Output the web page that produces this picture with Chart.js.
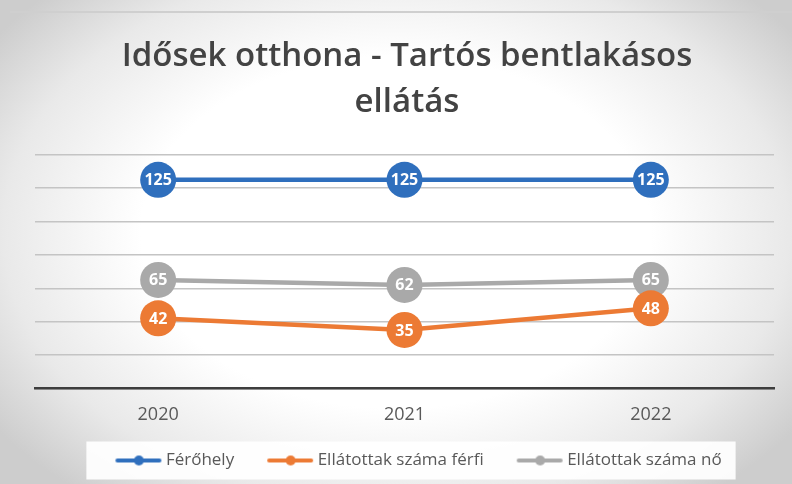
<!DOCTYPE html>
<html>
<head>
<meta charset="utf-8">
<script src="https://cdn.jsdelivr.net/npm/chart.js@4/dist/chart.umd.min.js"></script>
<style>
  html, body { margin: 0; padding: 0; }
  body {
    width: 792px; height: 484px; overflow: hidden;
    background: radial-gradient(ellipse 62% 70% at 50% 48%, #ffffff 52%, #e9e9e9 80%, #cdcdcd 100%);
  }
  #wrap { position: relative; width: 792px; height: 484px; }
  #topline { position: absolute; left: 10px; right: 0; top: 11px; height: 2px; background: #cfcfcf; }
</style>
</head>
<body>
<div id="wrap">
  <div id="topline"></div>
  <canvas id="c" width="792" height="484"></canvas>
</div>
<script>
const categories = ['2020', '2021', '2022'];
const ferohely = [125, 125, 125];
const ferfi = [42, 35, 48];
const no = [65, 62, 65];
const seriesNames = ['Férőhely', 'Ellátottak száma férfi', 'Ellátottak száma nő'];
const titleLines = ['Idősek otthona - Tartós bentlakásos', 'ellátás'];
const yMin = 0, yMax = 140, yStep = 20;

const colors = ['#2f6fbd', '#ec7a34', '#a9a9a9'];
const FONT = "'Open Sans', 'Noto Sans', sans-serif";

function makeMarker(color) {
  const cv = document.createElement('canvas');
  cv.width = 75; cv.height = 12;
  const g = cv.getContext('2d');
  g.strokeStyle = color; g.lineWidth = 4; g.lineCap = 'round';
  g.beginPath(); g.moveTo(30, 6); g.lineTo(72, 6); g.stroke();
  g.fillStyle = color;
  g.beginPath(); g.arc(51.5, 6, 5, 0, Math.PI * 2); g.fill();
  return cv;
}
const markers = colors.map(makeMarker);

const valueLabels = {
  id: 'valueLabels',
  afterDatasetsDraw(chart) {
    const ctx = chart.ctx;
    ctx.save();
    ctx.font = "bold 16px " + FONT;
    ctx.fillStyle = '#ffffff';
    ctx.textAlign = 'center';
    ctx.textBaseline = 'middle';
    for (let i = chart.data.datasets.length - 1; i >= 0; i--) {
      const meta = chart.getDatasetMeta(i);
      meta.data.forEach((pt, j) => {
        ctx.fillText(String(chart.data.datasets[i].data[j]), pt.x, pt.y + 1);
      });
    }
    ctx.restore();
  }
};

const legendBox = {
  id: 'legendBox',
  beforeDraw(chart) {
    const lg = chart.legend;
    if (!lg || !lg.legendHitBoxes || !lg.legendHitBoxes.length) return;
    const hb = lg.legendHitBoxes;
    let l = Infinity, r = -Infinity, t = Infinity, b = -Infinity;
    hb.forEach(h => { l = Math.min(l, h.left); r = Math.max(r, h.left + h.width); t = Math.min(t, h.top); b = Math.max(b, h.top + h.height); });
    const ctx = chart.ctx;
    ctx.save();
    ctx.fillStyle = 'rgba(255,255,255,0.92)';
    const cy = (t + b) / 2;
    ctx.fillRect(l - 6, cy - 19, (r - l) + 20, 38);
    ctx.restore();
  }
};

new Chart(document.getElementById('c'), {
  type: 'line',
  data: {
    labels: categories,
    datasets: [
      { label: seriesNames[0], data: ferohely },
      { label: seriesNames[1], data: ferfi },
      { label: seriesNames[2], data: no }
    ].map((d, i) => Object.assign(d, {
      borderColor: colors[i],
      backgroundColor: colors[i],
      pointBackgroundColor: colors[i],
      pointBorderColor: colors[i],
      pointBorderWidth: 0,
      pointRadius: 18,
      pointHoverRadius: 18,
      borderWidth: 4.5,
      tension: 0,
      clip: false
    }))
  },
  options: {
    responsive: false,
    animation: false,
    events: [],
    layout: { padding: { left: 35, right: 13, top: 0, bottom: 5 } },
    plugins: {
      title: {
        display: true,
        text: titleLines,
        color: '#434343',
        font: { family: FONT, size: 33, weight: '600', lineHeight: 1.39 },
        padding: { top: 34, bottom: 29 }
      },
      legend: {
        position: 'bottom',
        labels: {
          usePointStyle: true,
          pointStyleWidth: 65,
          padding: 10,
          color: '#595959',
          font: { family: FONT, size: 17 },
          generateLabels: chart => chart.data.datasets.map((ds, i) => ({
            text: ds.label,
            fillStyle: ds.borderColor,
            strokeStyle: ds.borderColor,
            lineWidth: 0,
            pointStyle: markers[i],
            fontColor: '#595959',
            hidden: false,
            datasetIndex: i
          }))
        }
      },
      tooltip: { enabled: false }
    },
    scales: {
      x: {
        offset: true,
        grid: { display: false, drawTicks: false },
        border: { display: true, color: '#3d3d3d', width: 2.5 },
        ticks: { color: '#595959', font: { family: FONT, size: 18 }, padding: 16 }
      },
      y: {
        min: yMin, max: yMax,
        ticks: { display: false, stepSize: yStep },
        grid: { color: '#c4c4c4', lineWidth: 1.5, drawTicks: false },
        border: { display: false }
      }
    }
  },
  plugins: [legendBox, valueLabels]
});
</script>
</body>
</html>
